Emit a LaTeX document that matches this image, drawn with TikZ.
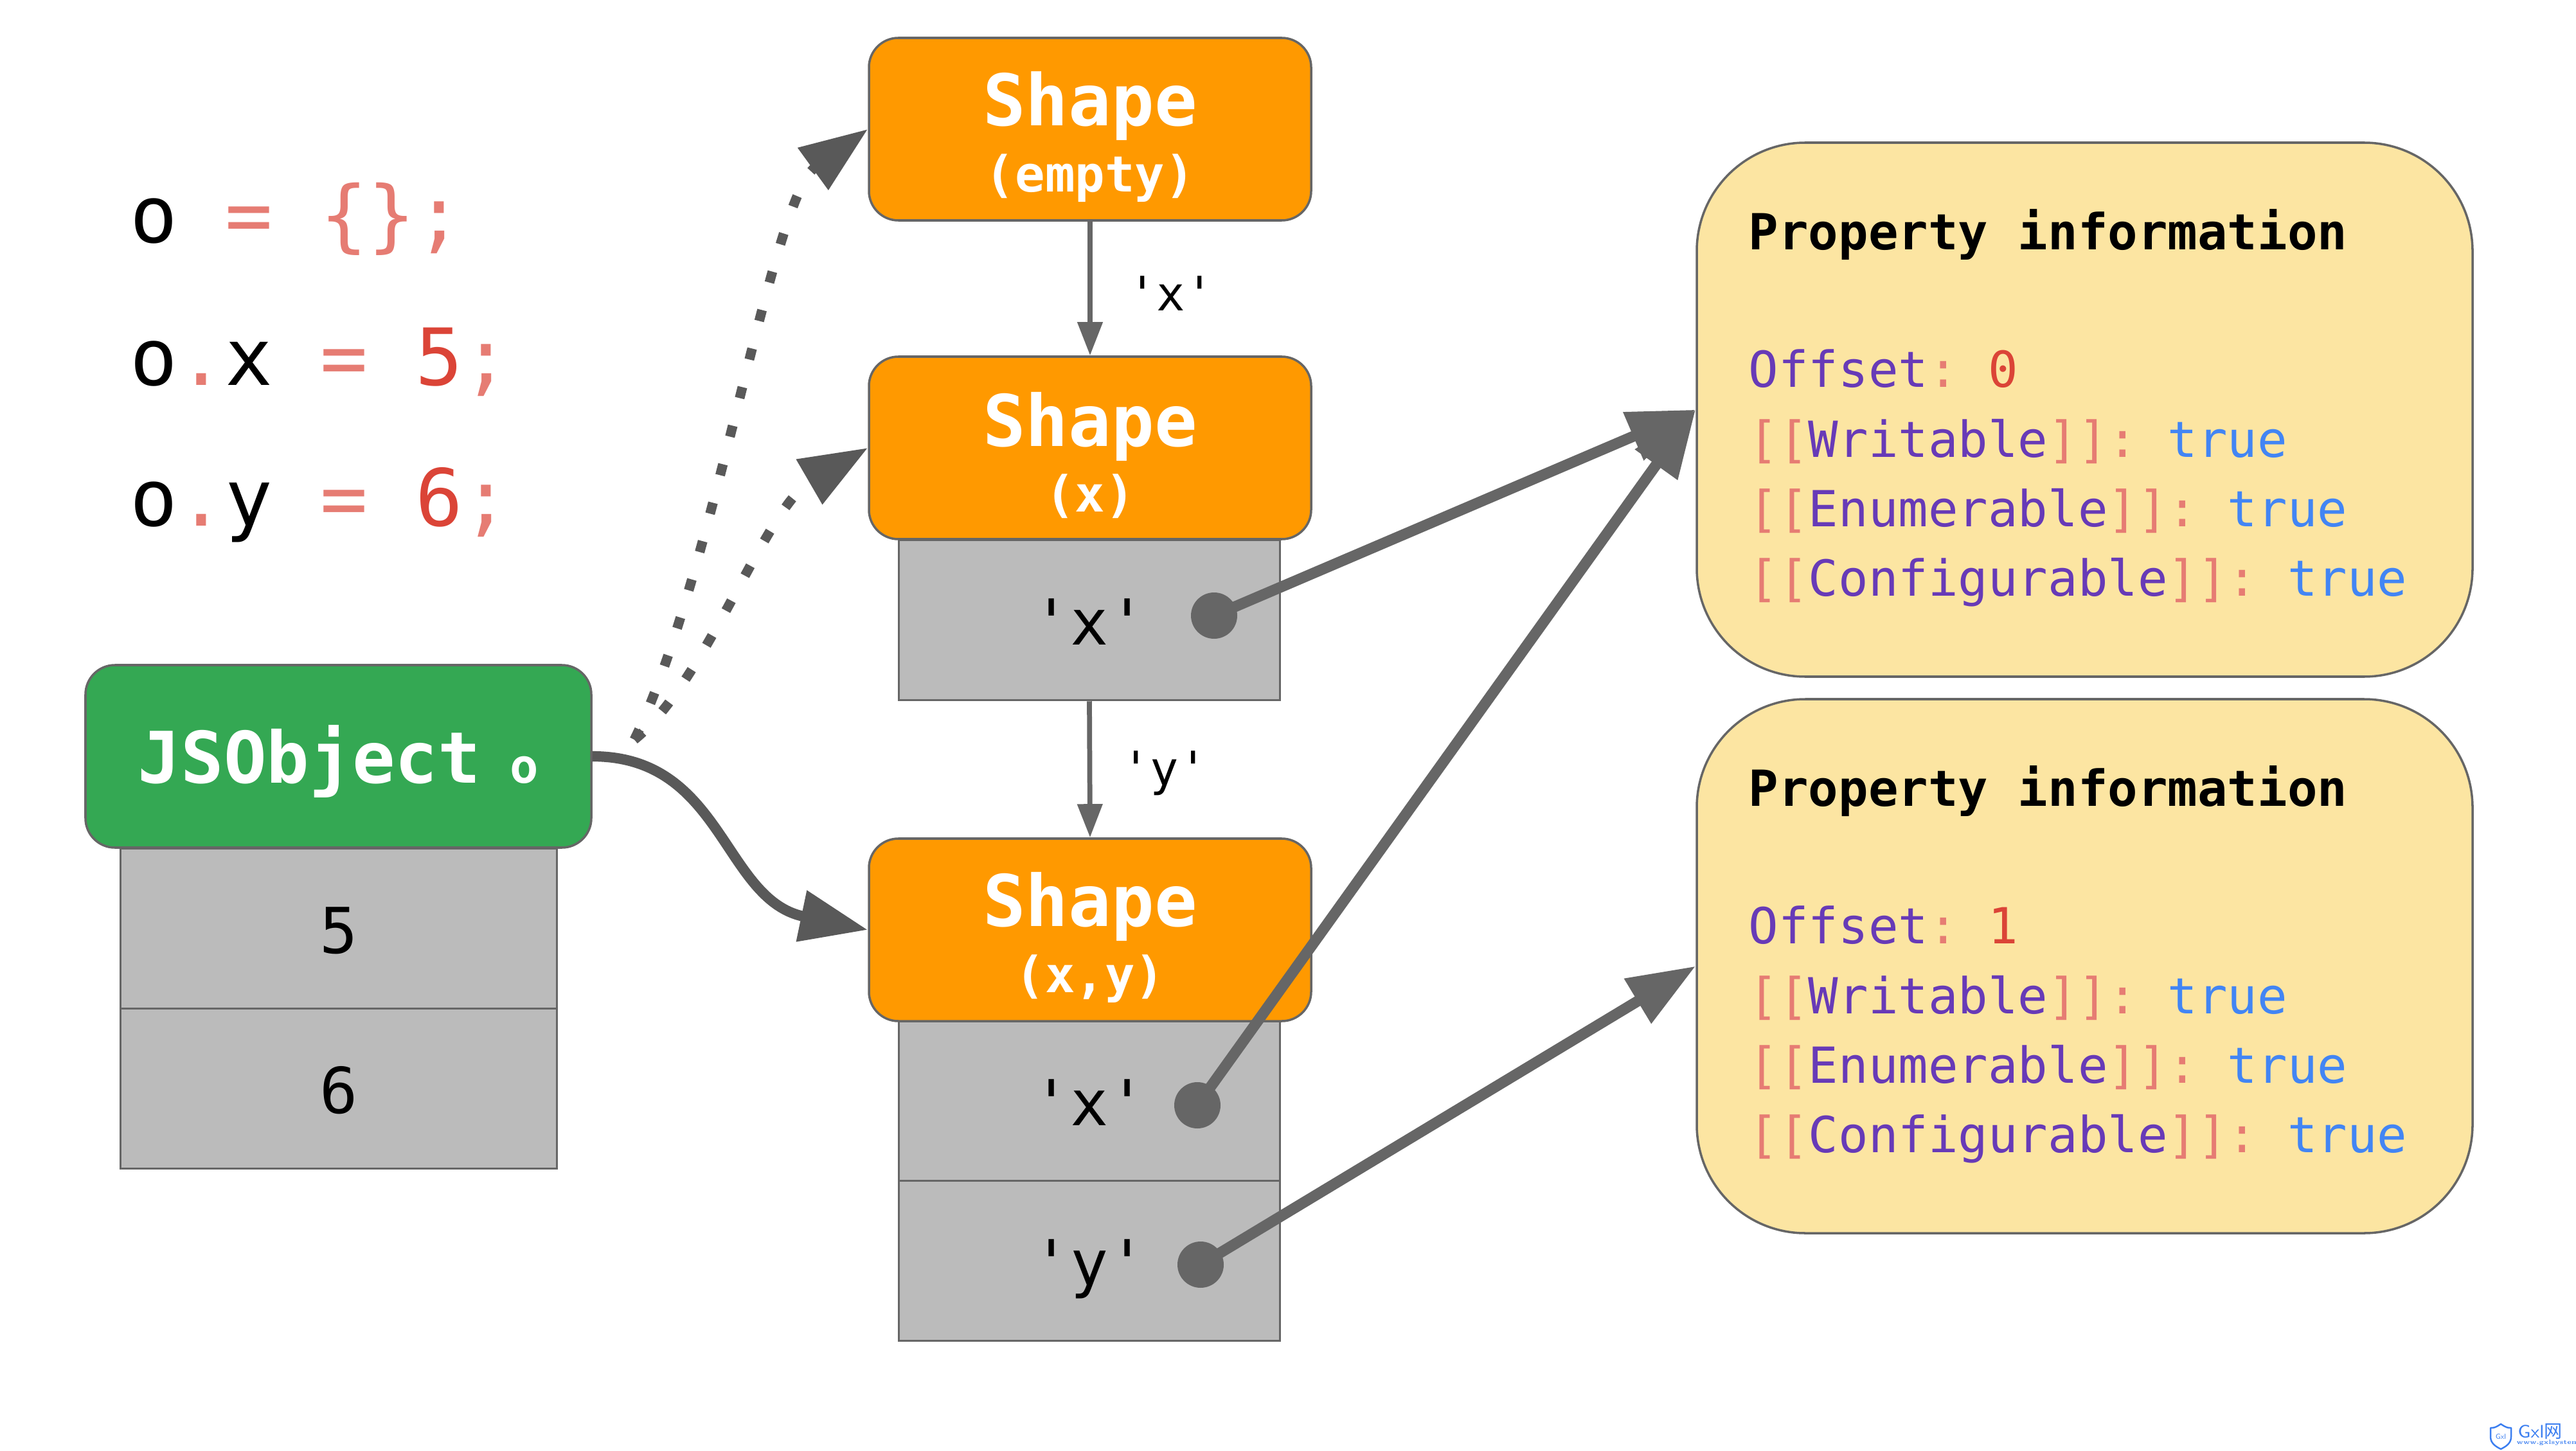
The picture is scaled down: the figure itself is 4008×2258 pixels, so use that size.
\documentclass[tikz,border=0pt]{standalone}
\usepackage{fontspec}
\usetikzlibrary{arrows.meta}
\setmonofont{DejaVu Sans Mono}
\newfontfamily\cjkfont{Noto Sans CJK SC}
\definecolor{edge}{HTML}{666666}
\definecolor{darkedge}{HTML}{595959}
\definecolor{shapeorange}{HTML}{FF9900}
\definecolor{objgreen}{HTML}{34A853}
\definecolor{slotgray}{HTML}{BBBBBB}
\definecolor{infoyellow}{HTML}{FCE5A2}
\definecolor{synt}{HTML}{E67C73}
\definecolor{numred}{HTML}{DB4437}
\definecolor{kwpurple}{HTML}{673AB7}
\definecolor{litblue}{HTML}{4285F4}
\definecolor{markblue}{HTML}{3B7EF0}
\newcommand{\fs}[1]{\fontsize{#1}{#1}\selectfont}
\newcommand{\sy}[1]{\textcolor{synt}{#1}}
\newcommand{\nm}[1]{\textcolor{numred}{#1}}
\newcommand{\kw}[1]{\textcolor{kwpurple}{#1}}
\newcommand{\lt}[1]{\textcolor{litblue}{#1}}
\newcommand{\propinfo}[1]{%
  \textbf{Property information}\\[30.1pt]
  \kw{Offset}\sy{:} \nm{#1}\\
  \sy{[[}\kw{Writable}\sy{]]:} \lt{true}\\
  \sy{[[}\kw{Enumerable}\sy{]]:} \lt{true}\\
  \sy{[[}\kw{Configurable}\sy{]]:} \lt{true}}
\newcommand{\shapelabel}[1]{\fs{31.5}\rule{0pt}{30.5pt}\textbf{Shape}\\[5pt]\fs{22}\textbf{#1}}
\newlength{\pxu}
\setlength{\pxu}{0.01cm}
\tikzset{
  x=0.01cm,y=-0.01cm,
  every node/.style={font=\ttfamily},
  headbox/.style={draw=edge,line width=1pt,rounded corners=13pt,inner sep=0pt,align=center,text=white},
  shapebox/.style={headbox,fill=shapeorange,minimum width=688\pxu,minimum height=284\pxu},
  objbox/.style={headbox,fill=objgreen,minimum width=787\pxu,minimum height=284\pxu},
  slot/.style={draw=edge,line width=1pt,fill=slotgray,inner sep=0pt,text height=24pt,text depth=2pt,font=\ttfamily\fs{28}},
  slotm/.style={slot,minimum width=593\pxu,minimum height=249\pxu},
  slotl/.style={slot,minimum width=679\pxu,minimum height=249\pxu},
  infobox/.style={draw=edge,line width=1pt,fill=infoyellow,rounded corners=48pt,inner sep=0pt,minimum width=1207\pxu,minimum height=831\pxu},
  infotext/.style={anchor=north west,inner sep=0pt,align=left,font=\ttfamily\fontsize{22}{30.8}\selectfont},
  codeline/.style={anchor=base west,inner sep=0pt,font=\ttfamily\fs{34.9}},
  edgelabel/.style={inner sep=0pt,font=\ttfamily\fs{21}},
  dotend/.style={circle,fill=edge,inner sep=0pt,minimum size=72\pxu},
  thin arrow/.style={draw=edge,line width=2.2pt,-{Triangle[width=10.8pt,length=14.8pt]}},
  thick arrow/.style={draw=edge,line width=4.8pt,-{Triangle[width=22pt,length=30pt]}},
  curve arrow/.style={draw=darkedge,line width=4.6pt,-{Triangle[width=22pt,length=30pt]}},
  dot arrow/.style={draw=darkedge,line width=4.3pt,dash pattern=on 5pt off 12.6pt,-{Triangle[width=22pt,length=30pt]}},
}
\begin{document}
\begin{tikzpicture}
\useasboundingbox (0,0) rectangle (4008,2258);

% code
\node[codeline] (c1) at (202,378) {o \sy{= \{\};}};
\node[codeline] (c2) at (202,600) {o\sy{.}x \sy{=} \nm{5}\sy{;}};
\node[codeline] (c3) at (202,818) {o\sy{.}y \sy{=} \nm{6}\sy{;}};

% JSObject
\node[slotl] (v5) at (527,1445) {5};
\node[slotl] (v6) at (527,1694) {6};
\node[objbox] (obj) at (526.5,1177) {\fs{31.5}\rule{0pt}{30pt}\textbf{JSObject}\hspace{13pt}\fs{21}\textbf{o}};

% shapes
\node[slotm] (kx) at (1695,965) {'x'};
\node[slotm] (kxx) at (1695,1713) {'x'};
\node[slotm] (kxy) at (1695,1962) {'y'};
\node[shapebox] (s1) at (1696,201) {\shapelabel{(empty)}};
\node[shapebox] (s2) at (1696,697) {\shapelabel{(x)}};
\node[shapebox] (s3) at (1696,1447) {\shapelabel{(x,y)}};

% property information
\node[infobox] (p1) at (3243.5,637.5) {};
\node[infobox] (p2) at (3243.5,1503.5) {};
\node[infotext] (t1) at (2720,325) {\propinfo{0}};
\node[infotext] (t2) at (2720,1191) {\propinfo{1}};

% transition labels
\node[edgelabel] (lx) at (1822,457) {'x'};
\node[edgelabel] (ly) at (1812,1203) {'y'};
\draw[thin arrow] (s1.south) -- (s2.north);
\draw[thin arrow] (kx.south) -- (s3.north);

% dots
\node[dotend] (d1) at (1889,958) {};
\node[dotend] (d2) at (1863,1720) {};
\node[dotend] (d3) at (1868,1968) {};
\draw[thick arrow] (d1.center) -- (p1.west);
\draw[thick arrow] (d2.center) -- (p1.west);
\draw[thick arrow] (d3.center) -- (p2.west);

% from object
\coordinate (ds) at (987,1151);
\draw[curve arrow] (obj.east) .. controls (1125,1177) and (1125,1400) .. (s3.west);
\draw[dot arrow] (ds) .. controls (1110,900) and (1200,310) .. (s1.west);
\draw[dot arrow] (ds) .. controls (1100,1060) and (1190,790) .. (s2.west);

% watermark
\draw[markblue,line width=0.7pt,line join=round] (3891,2216) .. controls (3882,2222) and (3880,2222) .. (3875,2222) -- (3875,2236) .. controls (3875,2246) and (3883,2251) .. (3891,2255) .. controls (3899,2251) and (3907,2246) .. (3907,2236) -- (3907,2222) .. controls (3902,2222) and (3900,2222) .. (3891,2216) -- cycle;
\node[inner sep=0pt,text=markblue,font=\sffamily\fs{3.2}] (m0) at (3891,2236) {Gxl};
\node[inner sep=0pt,anchor=west,text=markblue,font=\sffamily\fs{8}] (m1) at (3917,2228) {Gxl\cjkfont 网};
\node[inner sep=0pt,anchor=west,text=markblue,font=\rmfamily\bfseries\fs{2.7}] (m2) at (3915,2245) {www.gxlsystem.com};
\end{tikzpicture}
\end{document}
